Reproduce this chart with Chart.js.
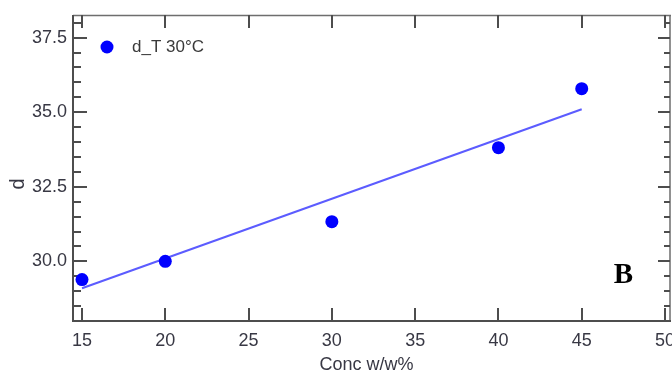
<!DOCTYPE html>
<html><head><meta charset="utf-8">
<script src="https://cdn.jsdelivr.net/npm/chart.js@4.4.0/dist/chart.umd.min.js"></script>
<style>html,body{margin:0;padding:0;background:#fff}canvas{display:block}</style>
</head><body>
<canvas id="c" width="672" height="372"></canvas>
<script>
// ---- data ----
const concentrations = [15, 20, 30, 40, 45];
const dValues = [29.39, 30.0, 31.33, 33.81, 35.79];
const fitX = [15, 45];
const fitY = [29.1, 35.1];
const xTicks = [15, 20, 25, 30, 35, 40, 45, 50];
const yTicks = [30.0, 32.5, 35.0, 37.5];
const seriesLabel = 'd_T 30°C';
const xTitle = 'Conc w/w%';
const yTitle = 'd';
const panelLabel = 'B';

const FONT = '"Liberation Sans", Arial, sans-serif';
const TICK_COLOR = '#383844';
const AXIS_DARK = '#4d4d4d';
const AXIS_LIGHT = '#6e6e6e';

const frameAndTicks = {
  id: 'frameAndTicks',
  beforeDatasetsDraw(chart) {
    const {ctx, chartArea: a, scales: {x, y}} = chart;
    ctx.save();
    ctx.lineCap = 'butt';
    // top & right (lighter)
    ctx.strokeStyle = AXIS_LIGHT; ctx.lineWidth = 1.5;
    ctx.beginPath();
    ctx.moveTo(a.left, a.top + 0.5); ctx.lineTo(a.right + 1, a.top + 0.5);
    ctx.moveTo(a.right, a.top); ctx.lineTo(a.right, a.bottom);
    ctx.stroke();
    // ticks
    ctx.strokeStyle = AXIS_DARK; ctx.lineWidth = 2;
    ctx.beginPath();
    xTicks.forEach(v => {
      const px = Math.round(x.getPixelForValue(v));
      ctx.moveTo(px, a.bottom); ctx.lineTo(px, a.bottom - 13);
      ctx.moveTo(px, a.top); ctx.lineTo(px, a.top + 13);
    });
    for (let v = 28.5; v < y.max; v += 0.5) {
      const major = yTicks.some(t => Math.abs(t - v) < 1e-6);
      const len = major ? 14 : 8;
      const py = Math.round(y.getPixelForValue(v));
      ctx.moveTo(a.left, py); ctx.lineTo(a.left + len, py);
      ctx.moveTo(a.right, py); ctx.lineTo(a.right - len + 2, py);
    }
    ctx.stroke();
    // left & bottom (darker)
    ctx.strokeStyle = AXIS_DARK; ctx.lineWidth = 2;
    ctx.beginPath();
    ctx.moveTo(a.left, a.top); ctx.lineTo(a.left, a.bottom + 1);
    ctx.moveTo(a.left - 1, a.bottom); ctx.lineTo(a.right + 1, a.bottom);
    ctx.stroke();
    ctx.restore();
  },
  afterDraw(chart) {
    const {ctx, chartArea: a} = chart;
    const ds = chart.data.datasets[0];
    ctx.save();
    // legend
    ctx.fillStyle = ds.backgroundColor;
    ctx.beginPath();
    ctx.arc(a.left + 34, a.top + 32, 6.5, 0, Math.PI * 2);
    ctx.fill();
    ctx.fillStyle = '#3a3a3a';
    ctx.font = '17px ' + FONT;
    ctx.textBaseline = 'middle';
    ctx.textAlign = 'left';
    ctx.fillText(ds.label, a.left + 59, a.top + 32);
    // axis titles
    ctx.fillStyle = TICK_COLOR;
    ctx.textAlign = 'center';
    ctx.font = '18px ' + FONT;
    ctx.fillText(xTitle, (a.left + a.right) / 2 - 5, 365);
    ctx.save();
    ctx.translate(18, 184);
    ctx.rotate(-Math.PI / 2);
    ctx.font = '20px ' + FONT;
    ctx.fillText(yTitle, 0, 0);
    ctx.restore();
    // panel label
    ctx.fillStyle = '#000';
    ctx.font = 'bold 29px "Liberation Serif", "Times New Roman", serif';
    ctx.textAlign = 'center';
    ctx.fillText(panelLabel, 623.5, 276);
    ctx.restore();
  }
};

new Chart(document.getElementById('c'), {
  type: 'scatter',
  data: {
    datasets: [
      {
        label: seriesLabel,
        data: concentrations.map((c, i) => ({x: c, y: dValues[i]})),
        backgroundColor: '#0000ff',
        borderColor: '#0000ff',
        borderWidth: 0,
        pointRadius: 6.5,
        pointHoverRadius: 6.5,
        order: 0
      },
      {
        type: 'line',
        label: 'fit',
        data: fitX.map((c, i) => ({x: c, y: fitY[i]})),
        borderColor: '#5c5cff',
        borderWidth: 2,
        pointRadius: 0,
        fill: false,
        order: 1
      }
    ]
  },
  options: {
    responsive: false,
    animation: false,
    events: [],
    layout: {autoPadding: false, padding: {top: 15, right: 2, left: 0, bottom: 0}},
    plugins: {legend: {display: false}, tooltip: {enabled: false}},
    scales: {
      x: {
        type: 'linear', min: 14.46, max: 50.3,
        afterBuildTicks: s => { s.ticks = xTicks.map(v => ({value: v})); },
        afterFit: s => { s.height = 51; s.paddingLeft = 0; s.paddingRight = 0; },
        grid: {display: false, drawTicks: false},
        border: {display: false},
        ticks: {padding: 9, color: TICK_COLOR, font: {family: FONT, size: 18}, maxRotation: 0, autoSkip: false,
                callback: v => String(v)}
      },
      y: {
        type: 'linear', min: 28.0, max: 38.26,
        afterBuildTicks: s => { s.ticks = yTicks.map(v => ({value: v})); },
        afterFit: s => { s.width = 73; s.paddingTop = 0; s.paddingBottom = 0; },
        grid: {display: false, drawTicks: false},
        border: {display: false},
        ticks: {padding: 6, color: TICK_COLOR, font: {family: FONT, size: 18}, autoSkip: false,
                callback: v => Number(v).toFixed(1)}
      }
    }
  },
  plugins: [frameAndTicks]
});
</script>
</body></html>
